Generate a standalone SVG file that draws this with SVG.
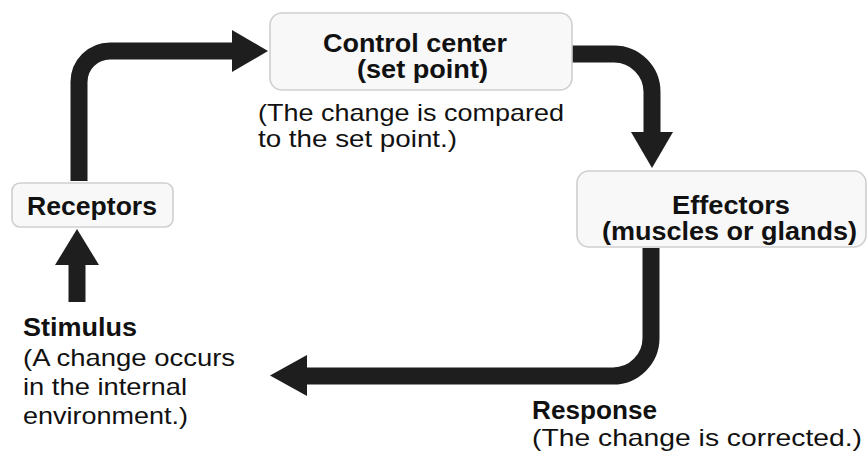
<svg xmlns="http://www.w3.org/2000/svg" width="868" height="456" viewBox="0 0 868 456">
  <style>
    .box { fill: #f8f8f8; stroke: #cfcfcf; stroke-width: 1.6; }
    .shaft { fill: none; stroke: #1e1e1e; stroke-width: 17; stroke-linecap: butt; }
    .head { fill: #1e1e1e; }
    .b { font-family: "Liberation Sans", Arial, sans-serif; font-weight: bold; font-size: 25px; fill: #111; }
    .r { font-family: "Liberation Sans", Arial, sans-serif; font-size: 24px; fill: #111; }
  </style>
  <rect width="868" height="456" fill="#ffffff"/>

  <g id="connectors">
    <g id="receptors-to-control">
      <path class="shaft" d="M79,181 V82 A31,31 0 0 1 110,51 H234"/>
      <polygon class="head" points="232,30 268,51 232,72"/>
    </g>
    <g id="control-to-effectors">
      <path class="shaft" d="M570,54 H614 A38,38 0 0 1 652,92 V134"/>
      <polygon class="head" points="631,132 673,132 652,168"/>
    </g>
    <g id="effectors-to-response">
      <path class="shaft" d="M651,248 V338 A38,38 0 0 1 613,376 H305"/>
      <polygon class="head" points="307,355 270,375.5 307,396"/>
    </g>
    <g id="stimulus-to-receptors">
      <path class="shaft" d="M77,302 V262"/>
      <polygon class="head" points="55,265 77,229 99,265"/>
    </g>
  </g>

  <g id="control-center">
    <rect class="box" x="270" y="13" width="302" height="77" rx="12"/>
    <text class="b" x="323" y="52" textLength="184" lengthAdjust="spacingAndGlyphs">Control center</text>
    <text class="b" x="357" y="78" textLength="131" lengthAdjust="spacingAndGlyphs">(set point)</text>
  </g>
  <g id="control-note">
    <text class="r" x="258" y="121" textLength="306" lengthAdjust="spacingAndGlyphs">(The change is compared</text>
    <text class="r" x="258" y="147" textLength="199" lengthAdjust="spacingAndGlyphs">to the set point.)</text>
  </g>

  <g id="receptors">
    <rect class="box" x="12" y="183" width="161" height="44" rx="8"/>
    <text class="b" x="27" y="215" textLength="130" lengthAdjust="spacingAndGlyphs">Receptors</text>
  </g>

  <g id="effectors">
    <rect class="box" x="577" y="171" width="289" height="76" rx="12"/>
    <text class="b" x="672" y="214" textLength="118" lengthAdjust="spacingAndGlyphs">Effectors</text>
    <text class="b" x="602" y="240" textLength="255" lengthAdjust="spacingAndGlyphs">(muscles or glands)</text>
  </g>

  <g id="stimulus">
    <text class="b" x="23" y="336" textLength="114" lengthAdjust="spacingAndGlyphs">Stimulus</text>
    <text class="r" x="23" y="366" textLength="212" lengthAdjust="spacingAndGlyphs">(A change occurs</text>
    <text class="r" x="23" y="395" textLength="164" lengthAdjust="spacingAndGlyphs">in the internal</text>
    <text class="r" x="23" y="424" textLength="165" lengthAdjust="spacingAndGlyphs">environment.)</text>
  </g>

  <g id="response">
    <text class="b" x="532" y="419" textLength="125" lengthAdjust="spacingAndGlyphs">Response</text>
    <text class="r" x="532" y="446" textLength="330" lengthAdjust="spacingAndGlyphs">(The change is corrected.)</text>
  </g>
</svg>
